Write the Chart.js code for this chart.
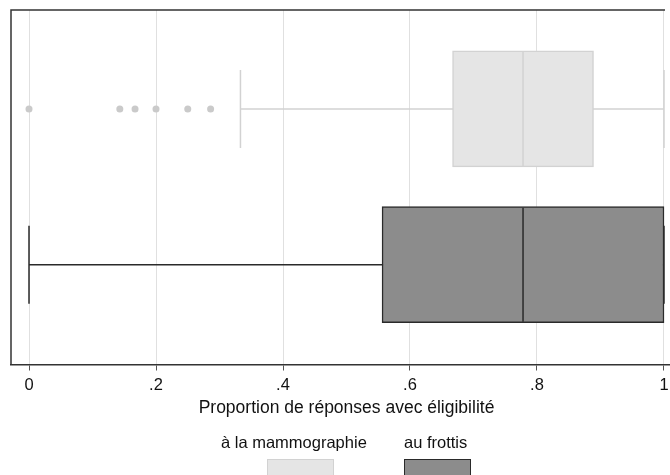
<!DOCTYPE html>
<html>
<head>
<meta charset="utf-8">
<script src="https://cdn.jsdelivr.net/npm/chart.js@4/dist/chart.umd.min.js"></script>
<style>
  html, body { margin: 0; padding: 0; background: #fff; overflow: hidden; }
  #wrap { position: relative; width: 670px; height: 475px; overflow: hidden; }
  #c { position: absolute; left: 0; top: 0; }
  .lg-text { position: absolute; font-family: "Liberation Sans", Arial, sans-serif; font-size: 16.5px; color: #111; line-height: 20px; white-space: nowrap; }
  .lg-box { position: absolute; width: 67px; height: 30px; box-sizing: border-box; }
</style>
</head>
<body>
<div id="wrap">
  <canvas id="c" width="682" height="475"></canvas>
  <div id="legend"></div>
</div>
<script>
// ---- data ----
const groups = ['à la mammographie', 'au frottis'];
const groupPos = [1, 2];
const lowerWhisker = [0.333, 0];
const q1 = [0.667, 0.556];
const median = [0.778, 0.778];
const q3 = [0.889, 1];
const upperWhisker = [1, 1];
const outliersMammo = [0, 0.143, 0.167, 0.2, 0.25, 0.286];
const xTicks = [0, 0.2, 0.4, 0.6, 0.8, 1];
const xTitle = 'Proportion de réponses avec éligibilité';

// ---- styles ----
const fillColors = ['#e5e5e5', '#8c8c8c'];
const lineColors = ['#d2d2d2', '#2a2a2a'];
const outlierColor = '#cacaca';
const FONT = '"Liberation Sans", Arial, sans-serif';

const datasets = [];
groups.forEach((g, i) => {
  // box (Q1..Q3)
  datasets.push({
    type: 'bar', label: g, indexAxis: 'y', xAxisID: 'x', yAxisID: 'y',
    data: [{ x: [q1[i], q3[i]], y: groupPos[i] }],
    backgroundColor: fillColors[i], borderColor: lineColors[i],
    borderWidth: 1.5, borderSkipped: false, barThickness: 116, grouped: false, order: 2
  });
  // whisker line
  datasets.push({
    type: 'line', label: g + ' whisker', xAxisID: 'x', yAxisID: 'y',
    data: [{ x: lowerWhisker[i], y: groupPos[i] }, { x: upperWhisker[i], y: groupPos[i] }],
    borderColor: lineColors[i], borderWidth: 1.5, pointRadius: 0, fill: false, order: 3
  });
  // whisker caps
  datasets.push({
    type: 'line', label: g + ' caps', xAxisID: 'x', yAxisID: 'y',
    data: [{ x: lowerWhisker[i], y: groupPos[i] }, { x: upperWhisker[i], y: groupPos[i] }],
    showLine: false, pointStyle: 'line', rotation: 90, pointRadius: 39,
    pointBorderColor: lineColors[i], pointBorderWidth: 1.5, order: 1
  });
  // median
  datasets.push({
    type: 'line', label: g + ' median', xAxisID: 'x', yAxisID: 'y',
    data: [{ x: median[i], y: groupPos[i] }],
    showLine: false, pointStyle: 'line', rotation: 90, pointRadius: 57,
    pointBorderColor: lineColors[i], pointBorderWidth: 1.5, order: 0
  });
});
// outliers
datasets.push({
  type: 'line', label: 'outliers', xAxisID: 'x', yAxisID: 'y',
  data: outliersMammo.map(v => ({ x: v, y: groupPos[0] })),
  showLine: false, pointStyle: 'circle', pointRadius: 3.5,
  pointBackgroundColor: outlierColor, pointBorderWidth: 0, order: 0
});

const framePlugin = {
  id: 'frame',
  afterDraw(chart) {
    const { ctx, chartArea: a } = chart;
    const xEnd = chart.scales.x.getPixelForValue(xTicks[xTicks.length - 1]);
    ctx.save();
    ctx.strokeStyle = '#333';
    ctx.lineWidth = 1.5;
    ctx.beginPath();
    ctx.moveTo(a.left, a.bottom);
    ctx.lineTo(a.left, a.top);
    ctx.lineTo(xEnd + 1, a.top);
    ctx.stroke();
    ctx.restore();
  }
};

function fmt(v) {
  if (v === 0) return '0';
  if (v === 1) return '1';
  return v.toFixed(1).replace(/^0/, '');
}

new Chart(document.getElementById('c'), {
  type: 'scatter',
  data: { datasets },
  plugins: [framePlugin],
  options: {
    responsive: false,
    animation: false,
    events: [],
    layout: { autoPadding: false, padding: { left: 11, top: 10, right: 0, bottom: 52.5 } },
    plugins: { legend: { display: false }, tooltip: { enabled: false } },
    scales: {
      x: {
        type: 'linear', position: 'bottom', min: -0.02835, max: 1.02835, offset: false,
        afterBuildTicks: (s) => { s.ticks = xTicks.map(v => ({ value: v })); },
        afterFit: (s) => { s.height = 58; s.paddingLeft = 0; s.paddingRight = 0; },
        ticks: { callback: (v) => fmt(v), color: '#111', font: { family: FONT, size: 16.5 }, padding: 5, maxRotation: 0, autoSkip: false },
        grid: { color: '#e0e0e0', lineWidth: 1, tickColor: '#555', tickLength: 6, drawTicks: true, offset: false },
        border: { display: true, color: '#333', width: 1.5 },
        title: { display: true, text: xTitle, color: '#111', font: { family: FONT, size: 17.5 }, padding: { top: 0, bottom: 4 } }
      },
      y: {
        type: 'linear', display: false, reverse: true, offset: false, min: 0.365, max: 2.641,
        grid: { offset: false }
      }
    }
  }
});

// ---- legend (HTML) ----
const legend = document.getElementById('legend');
const lgText = [{ left: 221, top: 432 }, { left: 404, top: 432 }];
const lgBox = [{ left: 267, top: 459 }, { left: 404, top: 459 }];
groups.forEach((g, i) => {
  const t = document.createElement('div');
  t.className = 'lg-text';
  t.style.left = lgText[i].left + 'px';
  t.style.top = lgText[i].top + 'px';
  t.textContent = g;
  legend.appendChild(t);
  const b = document.createElement('div');
  b.className = 'lg-box';
  b.style.left = lgBox[i].left + 'px';
  b.style.top = lgBox[i].top + 'px';
  b.style.background = fillColors[i];
  b.style.border = '1.5px solid ' + lineColors[i];
  legend.appendChild(b);
});
</script>
</body>
</html>
